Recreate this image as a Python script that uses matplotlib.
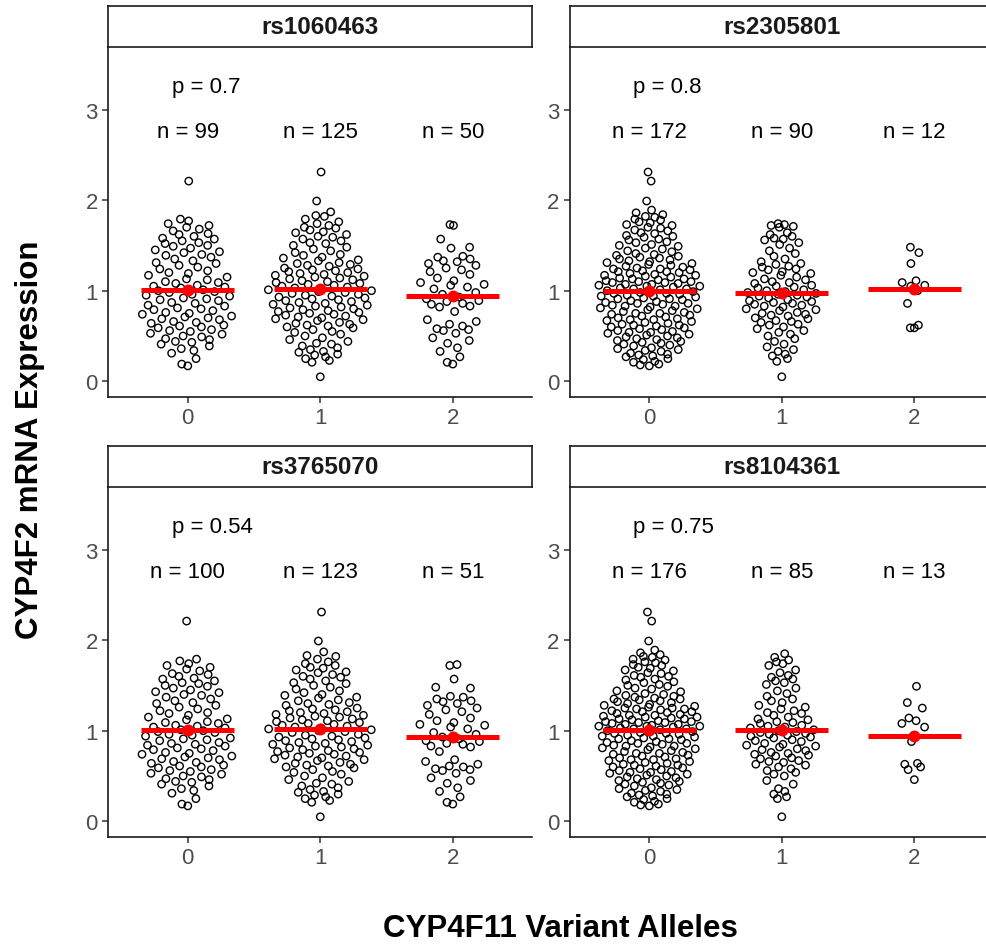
import numpy as np
import matplotlib
matplotlib.use("Agg")
import matplotlib.pyplot as plt

plt.rcParams['font.family'] = ['Liberation Sans', 'DejaVu Sans']

# ---------------------------------------------------------------------------
# Data: CYP4F2 mRNA expression grouped by number of CYP4F11 variant alleles
# ---------------------------------------------------------------------------
snps = ["rs1060463", "rs2305801", "rs3765070", "rs8104361"]
p_labels = ["p = 0.7", "p = 0.8", "p = 0.54", "p = 0.75"]
genotypes = [0, 1, 2]
genotype_labels = ["0", "1", "2"]
y_ticks = [0, 1, 2, 3]

rs1060463_0 = [
    2.21,
    1.79, 1.77, 1.74, 1.72, 1.70,
    1.68, 1.66, 1.63, 1.62, 1.60,
    1.58, 1.57, 1.55, 1.53, 1.52, 1.50,
    1.49, 1.47, 1.45, 1.43, 1.42, 1.40,
    1.39, 1.37, 1.35, 1.33, 1.31, 1.30,
    1.28, 1.26, 1.24, 1.22, 1.20,
    1.19, 1.17, 1.15, 1.13, 1.12, 1.10,
    1.09, 1.08, 1.06, 1.05, 1.04, 1.03, 1.01, 1.00,
    0.99, 0.98, 0.96, 0.95, 0.94, 0.92, 0.91, 0.90,
    0.89, 0.87, 0.86, 0.84, 0.83, 0.81, 0.80,
    0.79, 0.78, 0.76, 0.75, 0.74, 0.72, 0.71, 0.70,
    0.69, 0.68, 0.66, 0.65, 0.64, 0.62, 0.61, 0.60,
    0.59, 0.57, 0.56, 0.55, 0.53, 0.52, 0.50,
    0.49, 0.47, 0.46, 0.44, 0.43, 0.41,
    0.39, 0.36, 0.34, 0.31,
    0.25,
    0.19, 0.17,
]
rs1060463_1 = [
    2.31, 1.99, 1.87, 1.83, 1.82,
    1.79, 1.76, 1.74, 1.72, 1.70,
    1.69, 1.67, 1.65, 1.64, 1.62, 1.60,
    1.59, 1.57, 1.55, 1.53, 1.52, 1.50,
    1.48, 1.46, 1.44, 1.42, 1.40,
    1.39, 1.37, 1.36, 1.34, 1.33, 1.31, 1.30,
    1.29, 1.28, 1.27, 1.25, 1.24, 1.23, 1.22, 1.21, 1.20,
    1.19, 1.18, 1.17, 1.16, 1.15, 1.14, 1.13, 1.12, 1.11, 1.10,
    1.09, 1.08, 1.07, 1.06, 1.05, 1.04, 1.03, 1.02, 1.01, 1.00,
    0.99, 0.98, 0.97, 0.96, 0.95, 0.94, 0.93, 0.92, 0.91, 0.90,
    0.89, 0.88, 0.87, 0.86, 0.85, 0.84, 0.83, 0.82, 0.81, 0.80,
    0.79, 0.78, 0.77, 0.76, 0.75, 0.74, 0.73, 0.72, 0.71, 0.70,
    0.69, 0.68, 0.67, 0.65, 0.64, 0.63, 0.62, 0.61, 0.60,
    0.59, 0.57, 0.55, 0.54, 0.52, 0.50,
    0.48, 0.46, 0.44, 0.42, 0.41,
    0.39, 0.37, 0.35, 0.33, 0.32, 0.30,
    0.29, 0.27, 0.25, 0.23, 0.21,
    0.05,
]
rs1060463_2 = [
    1.73, 1.72, 1.57, 1.48, 1.47,
    1.38, 1.37, 1.35, 1.33, 1.32, 1.30,
    1.28, 1.25, 1.23, 1.21,
    1.18, 1.14, 1.11,
    1.09, 1.07, 1.06, 1.04, 1.02,
    0.98, 0.96, 0.93, 0.91,
    0.89, 0.88, 0.86, 0.85, 0.83, 0.82,
    0.77,
    0.68, 0.66, 0.63, 0.61,
    0.58, 0.57, 0.56, 0.53,
    0.48, 0.45, 0.42,
    0.37, 0.33,
    0.27, 0.21, 0.19,
]

rs2305801_0 = [
    2.31, 2.21, 1.99,
    1.89, 1.86, 1.84, 1.82, 1.81,
    1.79, 1.78, 1.76, 1.75, 1.73, 1.72, 1.70,
    1.69, 1.67, 1.66, 1.64, 1.63, 1.61, 1.60,
    1.59, 1.57, 1.56, 1.54, 1.53, 1.51, 1.50,
    1.49, 1.47, 1.46, 1.44, 1.43, 1.41, 1.40,
    1.39, 1.38, 1.37, 1.36, 1.35, 1.34, 1.33, 1.32, 1.31, 1.30,
    1.29, 1.28, 1.27, 1.26, 1.25, 1.24, 1.24, 1.23, 1.22, 1.21, 1.21, 1.20,
    1.19, 1.18, 1.17, 1.17, 1.16, 1.15, 1.14, 1.13, 1.13, 1.12, 1.11, 1.10, 1.10,
    1.09, 1.09, 1.08, 1.07, 1.07, 1.06, 1.05, 1.05, 1.04, 1.03, 1.02, 1.02, 1.01, 1.00,
    0.99, 0.98, 0.97, 0.97, 0.96, 0.95, 0.94, 0.94, 0.93, 0.92, 0.91, 0.91, 0.90,
    0.89, 0.88, 0.87, 0.86, 0.86, 0.85, 0.84, 0.83, 0.83, 0.82, 0.81, 0.80,
    0.79, 0.78, 0.77, 0.76, 0.75, 0.75, 0.74, 0.73, 0.72, 0.71, 0.70,
    0.69, 0.68, 0.68, 0.67, 0.66, 0.65, 0.64, 0.63, 0.62, 0.62, 0.61, 0.60,
    0.59, 0.58, 0.57, 0.56, 0.55, 0.54, 0.54, 0.53, 0.52, 0.51, 0.50,
    0.49, 0.48, 0.47, 0.46, 0.45, 0.44, 0.43, 0.42, 0.41, 0.40,
    0.39, 0.37, 0.36, 0.35, 0.34, 0.33, 0.31, 0.30,
    0.29, 0.28, 0.27, 0.25, 0.24, 0.22, 0.21,
    0.19, 0.18, 0.17,
]
rs2305801_1 = [
    1.74, 1.73, 1.72, 1.71, 1.70,
    1.64, 1.62, 1.60,
    1.58, 1.57, 1.56, 1.53, 1.51,
    1.47, 1.44, 1.41,
    1.38, 1.35, 1.32, 1.30,
    1.29, 1.27, 1.26, 1.24, 1.23, 1.21, 1.20,
    1.19, 1.17, 1.15, 1.13, 1.12, 1.10,
    1.09, 1.08, 1.06, 1.05, 1.04, 1.03, 1.01, 1.00,
    0.99, 0.98, 0.97, 0.96, 0.95, 0.94, 0.93, 0.92, 0.90,
    0.89, 0.88, 0.87, 0.86, 0.85, 0.84, 0.83, 0.82, 0.80,
    0.79, 0.78, 0.76, 0.75, 0.74, 0.73, 0.72, 0.70,
    0.69, 0.67, 0.66, 0.65, 0.63, 0.62, 0.60,
    0.58, 0.56, 0.54, 0.52, 0.50,
    0.47, 0.44, 0.41,
    0.38, 0.35, 0.33, 0.30,
    0.28, 0.25, 0.22,
    0.05,
]
rs2305801_2 = [1.48, 1.42, 1.30, 1.11, 1.09, 1.06, 1.05, 1.00, 0.86, 0.62, 0.59, 0.59]

rs3765070_0 = [
    2.21,
    1.79, 1.77, 1.74, 1.72, 1.70,
    1.68, 1.66, 1.63, 1.62, 1.60,
    1.58, 1.57, 1.55, 1.53, 1.52, 1.50,
    1.49, 1.47, 1.45, 1.43, 1.42, 1.40,
    1.39, 1.37, 1.35, 1.33, 1.31, 1.30,
    1.28, 1.26, 1.24, 1.22, 1.20,
    1.19, 1.17, 1.15, 1.13, 1.12, 1.10,
    1.09, 1.08, 1.06, 1.05, 1.04, 1.03, 1.01, 1.00,
    0.99, 0.98, 0.96, 0.95, 0.94, 0.92, 0.91, 0.90,
    0.89, 0.87, 0.86, 0.85, 0.84, 0.83, 0.81, 0.80,
    0.79, 0.78, 0.76, 0.75, 0.74, 0.72, 0.71, 0.70,
    0.69, 0.68, 0.66, 0.65, 0.64, 0.62, 0.61, 0.60,
    0.59, 0.57, 0.56, 0.55, 0.53, 0.52, 0.50,
    0.49, 0.47, 0.46, 0.44, 0.43, 0.41,
    0.39, 0.36, 0.34, 0.31,
    0.25,
    0.19, 0.17,
]
rs3765070_1 = [
    2.31, 1.99, 1.87, 1.83, 1.82,
    1.79, 1.76, 1.74, 1.72, 1.70,
    1.69, 1.67, 1.65, 1.64, 1.62, 1.60,
    1.59, 1.57, 1.55, 1.53, 1.52, 1.50,
    1.48, 1.46, 1.44, 1.42, 1.40,
    1.39, 1.37, 1.36, 1.34, 1.33, 1.31, 1.30,
    1.29, 1.28, 1.25, 1.24, 1.23, 1.22, 1.21, 1.20,
    1.19, 1.18, 1.17, 1.16, 1.15, 1.14, 1.13, 1.12, 1.11, 1.10,
    1.09, 1.08, 1.07, 1.06, 1.05, 1.04, 1.03, 1.02, 1.01, 1.00,
    0.99, 0.98, 0.96, 0.95, 0.94, 0.93, 0.92, 0.91, 0.90,
    0.89, 0.88, 0.87, 0.86, 0.85, 0.84, 0.83, 0.82, 0.81, 0.80,
    0.79, 0.78, 0.77, 0.76, 0.75, 0.74, 0.73, 0.72, 0.71, 0.70,
    0.69, 0.68, 0.67, 0.65, 0.64, 0.63, 0.62, 0.61, 0.60,
    0.59, 0.57, 0.55, 0.54, 0.52, 0.50,
    0.48, 0.46, 0.44, 0.42, 0.41,
    0.39, 0.37, 0.35, 0.33, 0.32, 0.30,
    0.29, 0.27, 0.25, 0.23, 0.21,
    0.05,
]
rs3765070_2 = [
    1.73, 1.72, 1.57, 1.48, 1.47,
    1.38, 1.37, 1.35, 1.33, 1.32, 1.30,
    1.28, 1.25, 1.23, 1.21,
    1.18, 1.14, 1.11,
    1.09, 1.07, 1.06, 1.04, 1.02,
    0.98, 0.96, 0.93, 0.91,
    0.89, 0.88, 0.86, 0.85, 0.83, 0.82,
    0.77,
    0.68, 0.66, 0.63, 0.61, 0.60,
    0.58, 0.57, 0.56, 0.53,
    0.48, 0.45, 0.42,
    0.37, 0.33,
    0.27, 0.21, 0.19,
]

rs8104361_0 = [
    2.31, 2.21, 1.99,
    1.89, 1.86, 1.84, 1.82, 1.81,
    1.79, 1.78, 1.76, 1.75, 1.73, 1.72, 1.70,
    1.69, 1.67, 1.66, 1.64, 1.63, 1.61, 1.60,
    1.59, 1.57, 1.56, 1.54, 1.53, 1.51, 1.50,
    1.49, 1.47, 1.46, 1.44, 1.43, 1.41, 1.40,
    1.39, 1.38, 1.37, 1.36, 1.35, 1.35, 1.34, 1.33, 1.32, 1.31, 1.30,
    1.29, 1.28, 1.27, 1.26, 1.25, 1.25, 1.24, 1.24, 1.23, 1.22, 1.21, 1.21, 1.20,
    1.19, 1.18, 1.17, 1.17, 1.16, 1.15, 1.15, 1.14, 1.13, 1.13, 1.12, 1.11, 1.10, 1.10,
    1.09, 1.09, 1.08, 1.07, 1.07, 1.06, 1.05, 1.05, 1.05, 1.04, 1.03, 1.02, 1.02, 1.01, 1.00,
    0.99, 0.98, 0.97, 0.97, 0.96, 0.95, 0.94, 0.94, 0.93, 0.92, 0.91, 0.91, 0.90,
    0.89, 0.88, 0.87, 0.86, 0.86, 0.85, 0.84, 0.83, 0.83, 0.82, 0.81, 0.80,
    0.79, 0.78, 0.77, 0.76, 0.75, 0.75, 0.74, 0.73, 0.72, 0.71, 0.70,
    0.69, 0.68, 0.68, 0.67, 0.66, 0.65, 0.64, 0.63, 0.62, 0.62, 0.61, 0.60,
    0.59, 0.58, 0.57, 0.56, 0.55, 0.54, 0.54, 0.53, 0.52, 0.51, 0.50,
    0.49, 0.48, 0.47, 0.46, 0.45, 0.44, 0.43, 0.42, 0.41, 0.40,
    0.39, 0.37, 0.36, 0.35, 0.34, 0.33, 0.31, 0.30,
    0.29, 0.28, 0.27, 0.25, 0.24, 0.22, 0.21,
    0.19, 0.18, 0.17,
]
rs8104361_1 = [
    1.85, 1.81,
    1.78, 1.76, 1.74, 1.72,
    1.67, 1.64, 1.61,
    1.59, 1.57, 1.55, 1.53, 1.51,
    1.47, 1.44, 1.41,
    1.38, 1.35, 1.33, 1.31,
    1.28, 1.26, 1.24, 1.22, 1.20,
    1.19, 1.17, 1.15, 1.13, 1.12, 1.10,
    1.09, 1.08, 1.06, 1.05, 1.04, 1.03, 1.01, 1.00,
    0.99, 0.98, 0.97, 0.96, 0.95, 0.94, 0.93, 0.92, 0.90,
    0.89, 0.88, 0.86, 0.85, 0.84, 0.83, 0.82, 0.80,
    0.79, 0.78, 0.76, 0.75, 0.74, 0.73, 0.72, 0.70,
    0.69, 0.67, 0.66, 0.65, 0.63, 0.62, 0.60,
    0.58, 0.56, 0.54, 0.52, 0.50,
    0.45, 0.41,
    0.36, 0.33, 0.30,
    0.27, 0.25,
    0.05,
]
rs8104361_2 = [1.49, 1.31, 1.25, 1.14, 1.11, 1.08, 1.04, 0.88, 0.64, 0.63, 0.60, 0.57, 0.46]

groups_by_snp = [
    [rs1060463_0, rs1060463_1, rs1060463_2],
    [rs2305801_0, rs2305801_1, rs2305801_2],
    [rs3765070_0, rs3765070_1, rs3765070_2],
    [rs8104361_0, rs8104361_1, rs8104361_2],
]


def van_der_corput(n):
    """Base-2 van der Corput sequence for indices 1..n."""
    out = np.empty(n)
    for i in range(1, n + 1):
        v, denom, k = 0.0, 1.0, i
        while k:
            denom *= 2.0
            k, r = divmod(k, 2)
            v += r / denom
        out[i - 1] = v
    return out


def quasirandom_offsets(y, width):
    """Horizontal offsets spreading points by their kernel density."""
    y = np.asarray(y, float)
    n = len(y)
    sd = y.std(ddof=1)
    q75, q25 = np.percentile(y, [75, 25])
    spread = min(sd, (q75 - q25) / 1.34) if q75 > q25 else sd
    bw = 0.9 * spread * n ** -0.2
    grid = np.linspace(y.min() - 3 * bw, y.max() + 3 * bw, 512)

    def dens(pts):
        return np.exp(-0.5 * ((pts[:, None] - y[None, :]) / bw) ** 2).sum(1)

    d = dens(y) / dens(grid).max()
    ranks = np.argsort(np.argsort(y, kind="stable"), kind="stable")
    vdc = van_der_corput(n)[ranks]
    return (vdc - 0.5) * 2.0 * width * d


# ---------------------------------------------------------------------------
# Figure layout (pixel boxes for the four facet panels)
# ---------------------------------------------------------------------------
W, H = 986, 945
fig = plt.figure(figsize=(W / 100, H / 100), dpi=100)
fig.patch.set_facecolor("white")


def px_axes(left, top, right, bottom):
    return fig.add_axes([left / W, 1 - bottom / H, (right - left) / W, (bottom - top) / H])


panel_boxes = [
    (108.3, 48, 532.3, 397.7),
    (569.8, 48, 993.8, 397.7),
    (108.3, 488, 532.3, 837.7),
    (569.8, 488, 993.8, 837.7),
]
strip_height = 41

axis_col = "#1a1a1a"
tick_col = "#333333"
label_col = "#4D4D4D"

for snp, p_text, groups, box in zip(snps, p_labels, groups_by_snp, panel_boxes):
    left, top, right, bottom = box
    ax = px_axes(left, top, right, bottom)
    ax.set_xlim(-0.6, 2.6)
    ax.set_ylim(-0.17, 3.69)
    ax.set_facecolor("white")
    for side in ("top", "right"):
        ax.spines[side].set_visible(False)
    for side in ("left", "bottom"):
        ax.spines[side].set_color(axis_col)
        ax.spines[side].set_linewidth(1.2)
    ax.set_xticks(genotypes)
    ax.set_xticklabels(genotype_labels)
    ax.set_yticks(y_ticks)
    ax.set_yticklabels([str(t) for t in y_ticks])
    ax.tick_params(length=4.5, width=1.1, color=tick_col, labelsize=16,
                   labelcolor=label_col, pad=3)

    n_max = max(len(g) for g in groups)
    for g, vals in zip(genotypes, groups):
        vals = np.asarray(vals, float)
        width = 0.4 * np.sqrt(len(vals) / n_max)
        xs = g + quasirandom_offsets(vals, width)
        ax.scatter(xs, vals, s=28, facecolors="none", edgecolors="black",
                   linewidths=1.0, zorder=3)
        m = vals.mean()
        ax.plot([g - 0.35, g + 0.35], [m, m], color="#FF0000", lw=3.6,
                solid_capstyle="butt", zorder=4)
        ax.plot([g], [m], "o", color="#FF0000", ms=8.6, mew=0, zorder=5)
        ax.text(g, 2.70, f"n = {len(vals)}", ha="center", va="baseline",
                fontsize=16, color="black")
    ax.text(-0.12, 3.195, p_text, ha="left", va="baseline", fontsize=16, color="black")

    # facet strip
    strip = px_axes(left, top - strip_height, right, top)
    strip.set_xticks([])
    strip.set_yticks([])
    strip.set_facecolor("white")
    for side in strip.spines.values():
        side.set_color(axis_col)
        side.set_linewidth(1.2)
    strip.text(0.5, 0.5, snp, transform=strip.transAxes, ha="center", va="center",
               fontsize=17.5, fontweight="bold", color="#1a1a1a")

fig.text(30 / W, 1 - 440 / H, "CYP4F2 mRNA Expression", rotation=90,
         ha="center", va="center", fontsize=22.5, fontweight="bold", color="black")
fig.text(560 / W, 1 - 937 / H, "CYP4F11 Variant Alleles",
         ha="center", va="baseline", fontsize=22.5, fontweight="bold", color="black")

fig.savefig("out.png", dpi=100, facecolor="white")
